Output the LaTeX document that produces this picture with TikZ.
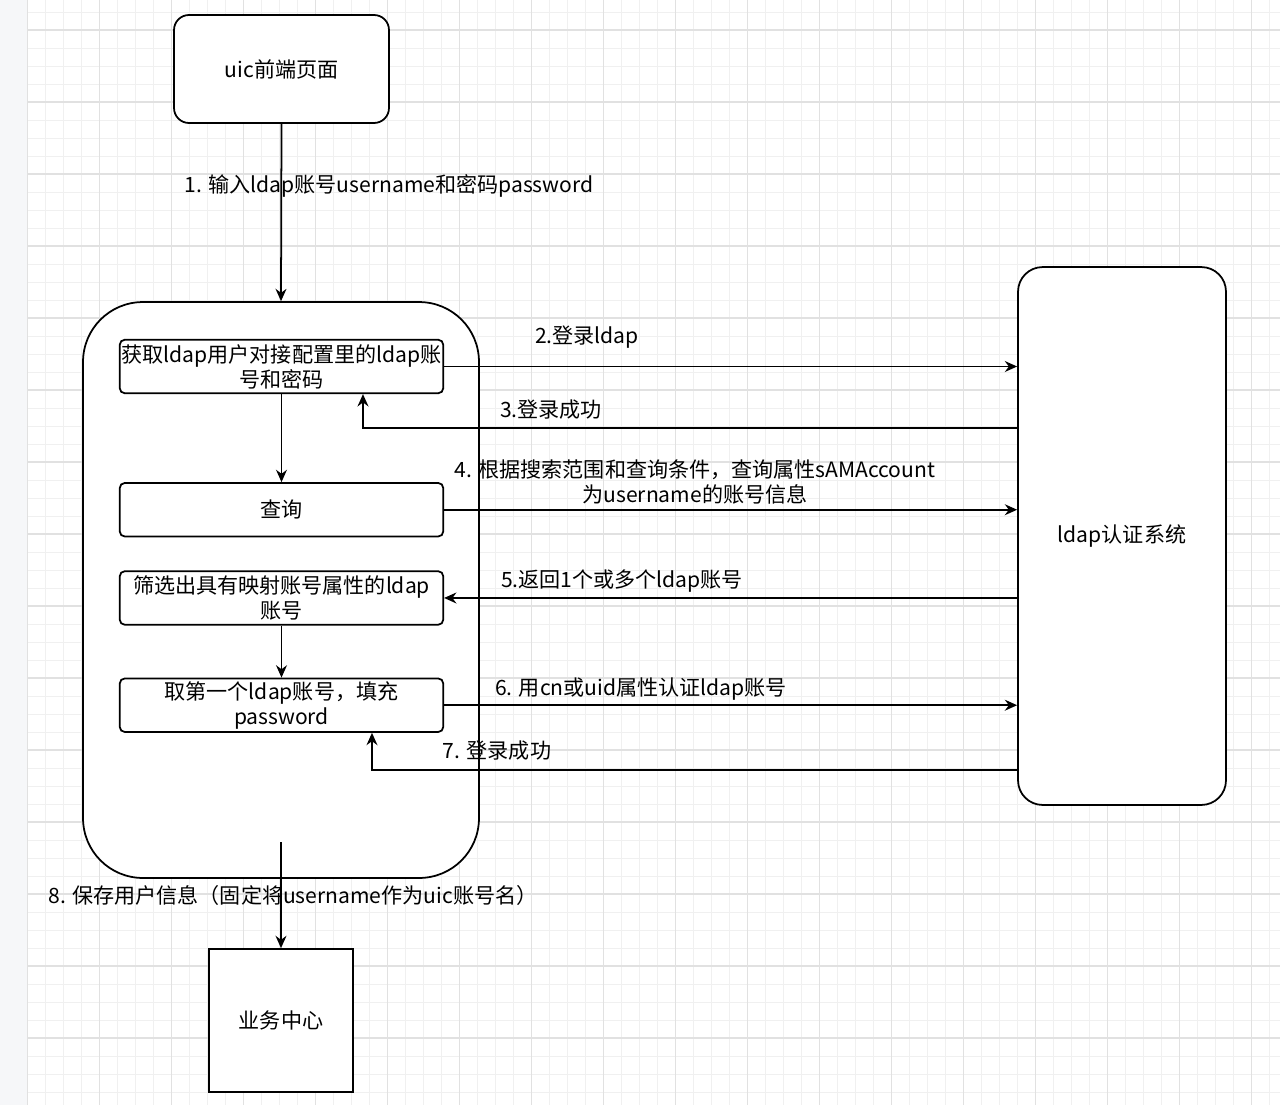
\documentclass[tikz,border=0pt]{standalone}
\usepackage{fontspec}
\setmainfont{Noto Sans CJK SC}
\usepackage{xcolor}
\usetikzlibrary{positioning,arrows.meta}

\definecolor{gridmajor}{HTML}{E1E1E1}
\definecolor{gridminor}{HTML}{F0F0F0}
\definecolor{panelgrey}{HTML}{F6F7F9}

\begin{document}
\begin{tikzpicture}[
  x=0.02cm, y=-0.02cm,
  font=\fontsize{12}{14.2}\selectfont,
  stepbox/.style={draw, line width=1pt, fill=white, rounded corners=2.8pt, align=center, minimum width=6.47cm, minimum height=1.07cm, inner sep=1pt},
  bigbox/.style={draw, line width=1pt, fill=white, align=center},
  lbl/.style={align=center, inner sep=0pt},
  flow/.style={-{Stealth[length=7pt, width=6.2pt]}, line width=1pt},
  minorline/.style={gridminor, line width=0.5pt},
  majorline/.style={gridmajor, line width=0.6pt}
]
  \useasboundingbox (0,0) rectangle (1280,1105);

  % canvas grid
  \fill[white] (27.7,0) rectangle (1280,1105);
  \fill[panelgrey] (0,0) rectangle (27.7,1105);
  \foreach \gx in {0,...,69} \draw[minorline] ({27.7+18*\gx},0) -- ({27.7+18*\gx},1105);
  \foreach \gy in {0,...,60} \draw[minorline] (27.7,{12+18*\gy}) -- (1280,{12+18*\gy});
  \foreach \gx in {0,...,17} \draw[majorline] ({27.7+72*\gx},0) -- ({27.7+72*\gx},1105);
  \foreach \gy in {0,...,14} \draw[majorline] (27.7,{30+72*\gy}) -- (1280,{30+72*\gy});

  % outer boxes
  \node[bigbox, rounded corners=8.5pt, minimum width=4.3cm, minimum height=2.16cm] (uic) at (281.5,69) {uic前端页面};
  \node[bigbox, rounded corners=34pt, minimum width=7.92cm, minimum height=11.52cm] (grp) at (281,590) {};
  \node[bigbox, rounded corners=14pt, minimum width=4.16cm, minimum height=10.76cm] (ldap) at (1122,536) {ldap认证系统};
  \node[bigbox, minimum width=2.88cm, minimum height=2.86cm] (biz) at (281,1020.5) {业务中心};

  % steps inside the uic backend
  \node[stepbox] (getcfg) at (281.5,366.5) {获取ldap用户对接配置里的ldap账\\号和密码};
  \node[stepbox, below=1.76cm of getcfg] (query) {查询};
  \node[stepbox, below=0.66cm of query] (filter) {筛选出具有映射账号属性的ldap\\账号};
  \node[stepbox, below=1.04cm of filter] (pick) {取第一个ldap账号，填充\\password};
  \coordinate (save) at (281,842);

  % connectors
  \draw[flow] (uic.south) -- (grp.north);
  \draw[flow] (getcfg) -- (query);
  \draw[flow] (filter) -- (pick);
  \draw[flow] (getcfg.east) -- (ldap.west |- getcfg.east);
  \draw[flow] (ldap.west |- 0,428) -| ([xshift=1.63cm]getcfg.south);
  \draw[flow] (query.east) -- (ldap.west |- query.east);
  \draw[flow] (ldap.west |- filter.east) -- (filter.east);
  \draw[flow] (pick.east) -- (ldap.west |- pick.east);
  \draw[flow] (ldap.west |- 0,770) -| ([xshift=1.81cm]pick.south);
  \draw[flow] (save) -- (biz);

  % connector labels
  \node[lbl] (l1) at (389,186) {1. 输入ldap账号username和密码password};
  \node[lbl] (l2) at (587,337) {2.登录ldap};
  \node[lbl] (l3) at (551,410) {3.登录成功};
  \node[lbl] (l4) at (695,482) {4. 根据搜索范围和查询条件，查询属性sAMAccount\\为username的账号信息};
  \node[lbl] (l5) at (622,581) {5.返回1个或多个ldap账号};
  \node[lbl] (l6) at (641,689) {6. 用cn或uid属性认证ldap账号};
  \node[lbl] (l7) at (497,751) {7. 登录成功};
  \node[lbl] (l8) at (293,895) {8. 保存用户信息（固定将username作为uic账号名）};
\end{tikzpicture}
\end{document}
